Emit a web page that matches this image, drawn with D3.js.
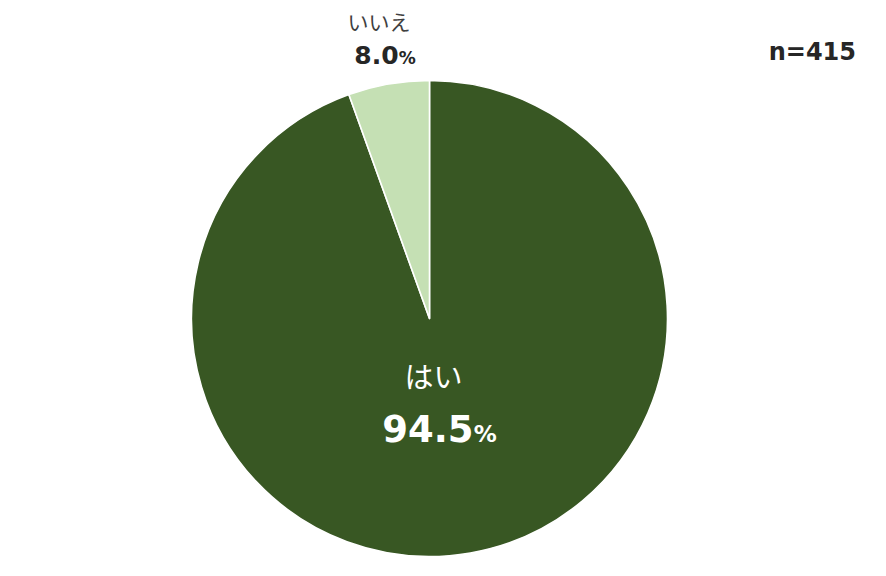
<!DOCTYPE html>
<html><head><meta charset="utf-8">
<script src="https://cdn.jsdelivr.net/npm/d3@7"></script>
<style>body{margin:0;background:#fff}svg{display:block}</style>
</head><body>
<svg id="c" width="886" height="576"></svg>
<script>
const categories = ["はい", "いいえ"];
const sliceShares = [94.5, 5.5];        // share of the circle as drawn
const labelValues = ["94.5", "8.0"];    // percentage labels as printed
const colors = ["#385723", "#C5E0B4"];
const sampleLabel = "n=415";

const svg = d3.select("#c");
const cx = 429.5, cy = 318.5, r = 238;
const g = svg.append("g").attr("transform", `translate(${cx},${cy})`);

const pie = d3.pie().sort(null).value(d => d.v)
  .startAngle(0).endAngle(2 * Math.PI);
const data = categories.map((c, i) => ({c, v: sliceShares[i], l: labelValues[i], col: colors[i]}));
const arcs = pie(data);
const arc = d3.arc().innerRadius(0).outerRadius(r);

g.selectAll("path").data(arcs).join("path")
  .attr("d", arc)
  .attr("fill", d => d.data.col)
  .attr("stroke", "#fff").attr("stroke-width", 1.6).attr("stroke-linejoin", "round");

const jp = "'Noto Sans CJK JP', sans-serif";
const num = "'DejaVu Sans', sans-serif";

// Inside label (はい)
const a0 = arcs[0];
g.append("text").attr("x", 4).attr("y", 388 - cy)
  .attr("text-anchor", "middle").attr("fill", "#fff")
  .style("font-family", jp).style("font-size", "29px").text(a0.data.c);
const t0 = g.append("text").attr("x", 10).attr("y", 442 - cy)
  .attr("text-anchor", "middle").attr("fill", "#fff")
  .style("font-family", num).style("font-weight", "700");
t0.append("tspan").style("font-size", "37px").text(a0.data.l);
t0.append("tspan").style("font-size", "23px").text("%");

// Outside label (いいえ)
const a1 = arcs[1];
svg.append("text").attr("x", 379).attr("y", 30)
  .attr("text-anchor", "middle").attr("fill", "#404040")
  .style("font-family", jp).style("font-size", "21px").text(a1.data.c);
const t1 = svg.append("text").attr("x", 385).attr("y", 64)
  .attr("text-anchor", "middle").attr("fill", "#262626")
  .style("font-family", num).style("font-weight", "700");
t1.append("tspan").style("font-size", "25px").text(a1.data.l);
t1.append("tspan").style("font-size", "17px").text("%");

// n label
svg.append("text").attr("x", 856).attr("y", 60)
  .attr("text-anchor", "end").attr("fill", "#262626")
  .style("font-family", num).style("font-weight", "700").style("font-size", "24px")
  .text(sampleLabel);
</script>
</body></html>
